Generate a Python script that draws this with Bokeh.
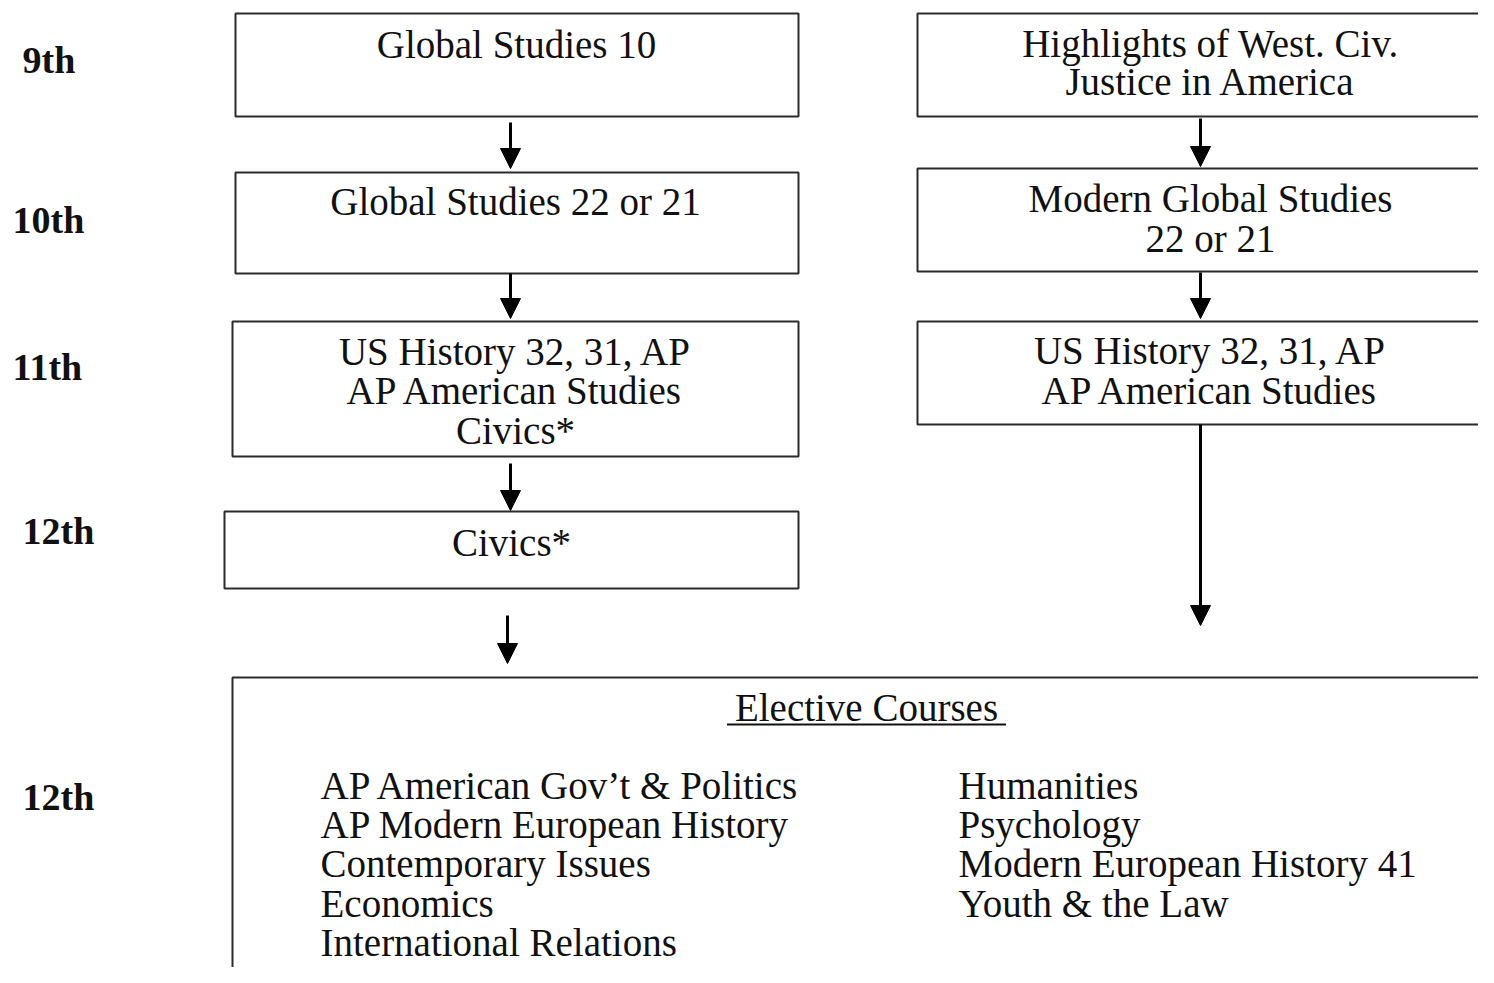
from bokeh.plotting import figure
from bokeh.models import Range1d, Arrow, NormalHead, ColumnDataSource
from bokeh.core.properties import value
from bokeh.embed import file_html
from bokeh.resources import INLINE

# ---------------- content ----------------
grades = ["9th", "10th", "11th", "12th", "12th"]

left_courses = [
    ["Global Studies 10"],
    ["Global Studies 22 or 21"],
    ["US History 32, 31, AP", "AP American Studies", "Civics*"],
    ["Civics*"],
]
right_courses = [
    ["Highlights of West. Civ.", "Justice in America"],
    ["Modern Global Studies", "22 or 21"],
    ["US History 32, 31, AP", "AP American Studies"],
]
elective_title = "Elective Courses"
electives_col1 = [
    "AP American Gov\u2019t & Politics",
    "AP Modern European History",
    "Contemporary Issues",
    "Economics",
    "International Relations",
]
electives_col2 = [
    "Humanities",
    "Psychology",
    "Modern European History 41",
    "Youth & the Law",
]

# ---------------- layout (page pixel coordinates) ----------------
grade_x = [22, 12, 12, 22, 22]
grade_y = [72, 232, 379, 543, 809]

left_box_l = [235, 235, 232, 224]
left_box_r = [798, 798, 798, 798]
left_box_t = [13, 172, 321, 511]
left_box_b = [116, 273, 456, 588]
left_text_x = [516, 515, 515, 511]
left_text_y = [[57], [214], [364, 403, 443], [555]]

right_box_l = [917, 917, 917]
right_box_r = [1530, 1530, 1530]
right_box_t = [13, 168, 321]
right_box_b = [116, 271, 424]
right_text_x = [1210, 1210, 1210]
right_text_y = [[56, 94], [211, 251], [363, 403]]

elec_box = dict(l=232, r=1530, t=677, b=1010)
elec_title_xy = (866, 720)
elec_title_w = 279
col1_x, col2_x = 320, 958
list_y0, list_dy = 798, 39.2

arrows_x = [510, 510, 510, 507, 1200, 1200, 1200]
arrows_y0 = [122, 273, 463, 615, 118, 272, 424]
arrows_y1 = [168, 318, 510, 663, 166, 318, 625]

FONT = value("Liberation Serif")
TXT = "39px"
INK = "#111111"
EDGE = "#2b2b2b"
YOFF = -13  # baseline correction for text rendering

p = figure(width=1478, height=967, output_backend="svg", toolbar_location=None,
           x_range=Range1d(0, 1478), y_range=Range1d(967, 0),
           x_axis_type=None, y_axis_type=None, min_border=0,
           background_fill_color="white", border_fill_color="white")
p.outline_line_color = None
p.grid.visible = False

# boxes
p.quad(left=left_box_l, right=left_box_r, top=left_box_t, bottom=left_box_b,
       fill_color="white", line_color=EDGE, line_width=2)
p.quad(left=right_box_l, right=right_box_r, top=right_box_t, bottom=right_box_b,
       fill_color="white", line_color=EDGE, line_width=2)
p.quad(left=[elec_box["l"]], right=[elec_box["r"]], top=[elec_box["t"]], bottom=[elec_box["b"]],
       fill_color="white", line_color=EDGE, line_width=2)

# arrows
for x, y0, y1 in zip(arrows_x, arrows_y0, arrows_y1):
    p.add_layout(Arrow(x_start=x, y_start=y0, x_end=x, y_end=y1,
                       line_color="black", line_width=3,
                       end=NormalHead(size=20, fill_color="black", line_color="black", line_width=1)))

# grade labels
p.text(x=grade_x, y=grade_y, text=grades, text_font=FONT, text_font_size="38px",
       text_font_style="bold", text_color=INK, text_align="left", text_baseline="alphabetic",
       y_offset=YOFF)

# box texts
def box_texts(courses, xs, ys):
    tx, ty, tt = [], [], []
    for lines, x, yl in zip(courses, xs, ys):
        for line, y in zip(lines, yl):
            tx.append(x); ty.append(y); tt.append(line)
    return tx, ty, tt

lx, ly, lt = box_texts(left_courses, left_text_x, left_text_y)
rx, ry, rt = box_texts(right_courses, right_text_x, right_text_y)
p.text(x=lx + rx, y=ly + ry, text=lt + rt, text_font=FONT, text_font_size=TXT,
       text_color=INK, text_align="center", text_baseline="alphabetic", y_offset=YOFF)

# electives
p.text(x=[elec_title_xy[0]], y=[elec_title_xy[1]], text=[elective_title], text_font=FONT,
       text_font_size=TXT, text_color=INK, text_align="center", text_baseline="alphabetic",
       y_offset=YOFF)
p.segment(x0=[elec_title_xy[0] - elec_title_w / 2], x1=[elec_title_xy[0] + elec_title_w / 2],
          y0=[elec_title_xy[1] + 4], y1=[elec_title_xy[1] + 4], line_color=INK, line_width=2)

c1 = ColumnDataSource(dict(x=[col1_x] * len(electives_col1),
                           y=[list_y0 + i * list_dy for i in range(len(electives_col1))],
                           t=electives_col1))
c2 = ColumnDataSource(dict(x=[col2_x] * len(electives_col2),
                           y=[list_y0 + i * list_dy for i in range(len(electives_col2))],
                           t=electives_col2))
for src in (c1, c2):
    p.text(x="x", y="y", text="t", source=src, text_font=FONT, text_font_size=TXT,
           text_color=INK, text_align="left", text_baseline="alphabetic", y_offset=YOFF)

open("out.html", "w").write(file_html(p, INLINE))
